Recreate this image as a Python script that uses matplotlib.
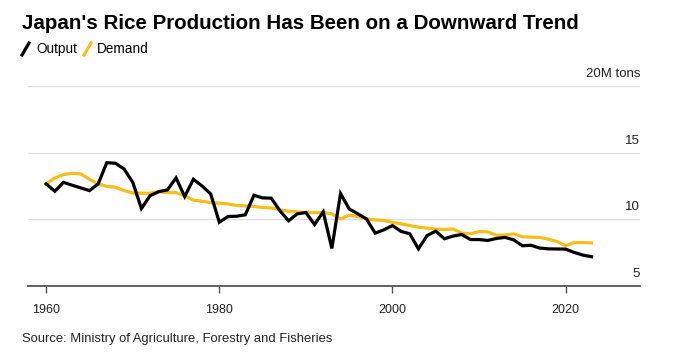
import matplotlib.pyplot as plt
from matplotlib.lines import Line2D
from matplotlib.transforms import blended_transform_factory

years = list(range(1960, 2024))
output = [12.65, 12.1, 12.77, 12.55, 12.35, 12.15, 12.65, 14.25, 14.2, 13.77,
          12.77, 10.8, 11.77, 12.07, 12.2, 13.1, 11.7, 13.0, 12.5, 11.9,
          9.77, 10.2, 10.22, 10.33, 11.8, 11.6, 11.58, 10.63, 9.88, 10.4,
          10.5, 9.6, 10.55, 7.8, 11.93, 10.77, 10.4, 10.02, 8.95, 9.2,
          9.52, 9.08, 8.9, 7.77, 8.77, 9.1, 8.53, 8.73, 8.85, 8.47,
          8.47, 8.4, 8.55, 8.63, 8.45, 8.0, 8.04, 7.83, 7.77, 7.76,
          7.75, 7.5, 7.3, 7.18]
demand = [12.65, 13.1, 13.35, 13.45, 13.4, 13.0, 12.65, 12.47, 12.4, 12.15,
          11.97, 11.95, 11.95, 12.07, 12.0, 12.0, 11.75, 11.43, 11.35, 11.25,
          11.2, 11.15, 11.03, 11.0, 10.95, 10.88, 10.85, 10.7, 10.6, 10.55,
          10.5, 10.5, 10.5, 10.4, 10.02, 10.3, 10.2, 10.02, 9.95, 9.9,
          9.77, 9.65, 9.52, 9.4, 9.33, 9.25, 9.22, 9.27, 8.95, 8.9,
          9.07, 9.05, 8.8, 8.8, 8.9, 8.68, 8.65, 8.63, 8.5, 8.33,
          8.0, 8.25, 8.25, 8.22]
xticks = [1960, 1980, 2000, 2020]
yticks = [5, 10, 15, 20]
ylabels = ['5', '10', '15', '20M tons']

plt.rcParams['font.family'] = ['Liberation Sans', 'DejaVu Sans']
black = '#000000'
yellow = '#F6BE1A'

fig = plt.figure(figsize=(6.77, 3.57), dpi=100)
ax = fig.add_axes([0.0414, 0.1997, 0.904, 0.559])

ax.plot(years, demand, color=yellow, lw=2.3, solid_joinstyle='round', zorder=3)
ax.plot(years, output, color=black, lw=2.3, solid_joinstyle='miter', zorder=4)

ax.set_xlim(1957.9, 2028.6)
ax.set_ylim(5, 20)

for s in ['top', 'right', 'left']:
    ax.spines[s].set_visible(False)
ax.spines['bottom'].set_color('#555555')
ax.spines['bottom'].set_linewidth(1.3)

for v in yticks[1:]:
    ax.axhline(v, color='#dddddd', lw=0.9, zorder=1)
ax.set_yticks([])

trans = blended_transform_factory(ax.transAxes, ax.transData)
for v, lab in zip(yticks, ylabels):
    ax.text(1.0, v + 0.45, lab, transform=trans, ha='right', va='bottom',
            fontsize=9.5, color='#222222')

ax.set_xticks(xticks)
ax.set_xticklabels([str(x) for x in xticks])
ax.tick_params(axis='x', length=5, width=1, color='#555555', labelsize=9,
               labelcolor='#222222', pad=8)

fig.text(0.032, 0.935, "Japan's Rice Production Has Been on a Downward Trend",
         fontsize=14.8, fontweight='bold', ha='left', va='center')

# legend with slash markers
fig.add_artist(Line2D([22 / 677, 29 / 677], [1 - 55 / 357, 1 - 43 / 357],
                      color=black, lw=2.3, transform=fig.transFigure))
fig.text(36 / 677, 1 - 49 / 357, 'Output', fontsize=9.8, ha='left', va='center')
fig.add_artist(Line2D([84 / 677, 91 / 677], [1 - 55 / 357, 1 - 43 / 357],
                      color=yellow, lw=2.3, transform=fig.transFigure))
fig.text(97 / 677, 1 - 49 / 357, 'Demand', fontsize=9.8, ha='left', va='center')

fig.text(22 / 677, 1 - 339 / 357, 'Source: Ministry of Agriculture, Forestry and Fisheries',
         fontsize=9.4, ha='left', va='center', color='#222222')

fig.savefig('out.png', dpi=100)
